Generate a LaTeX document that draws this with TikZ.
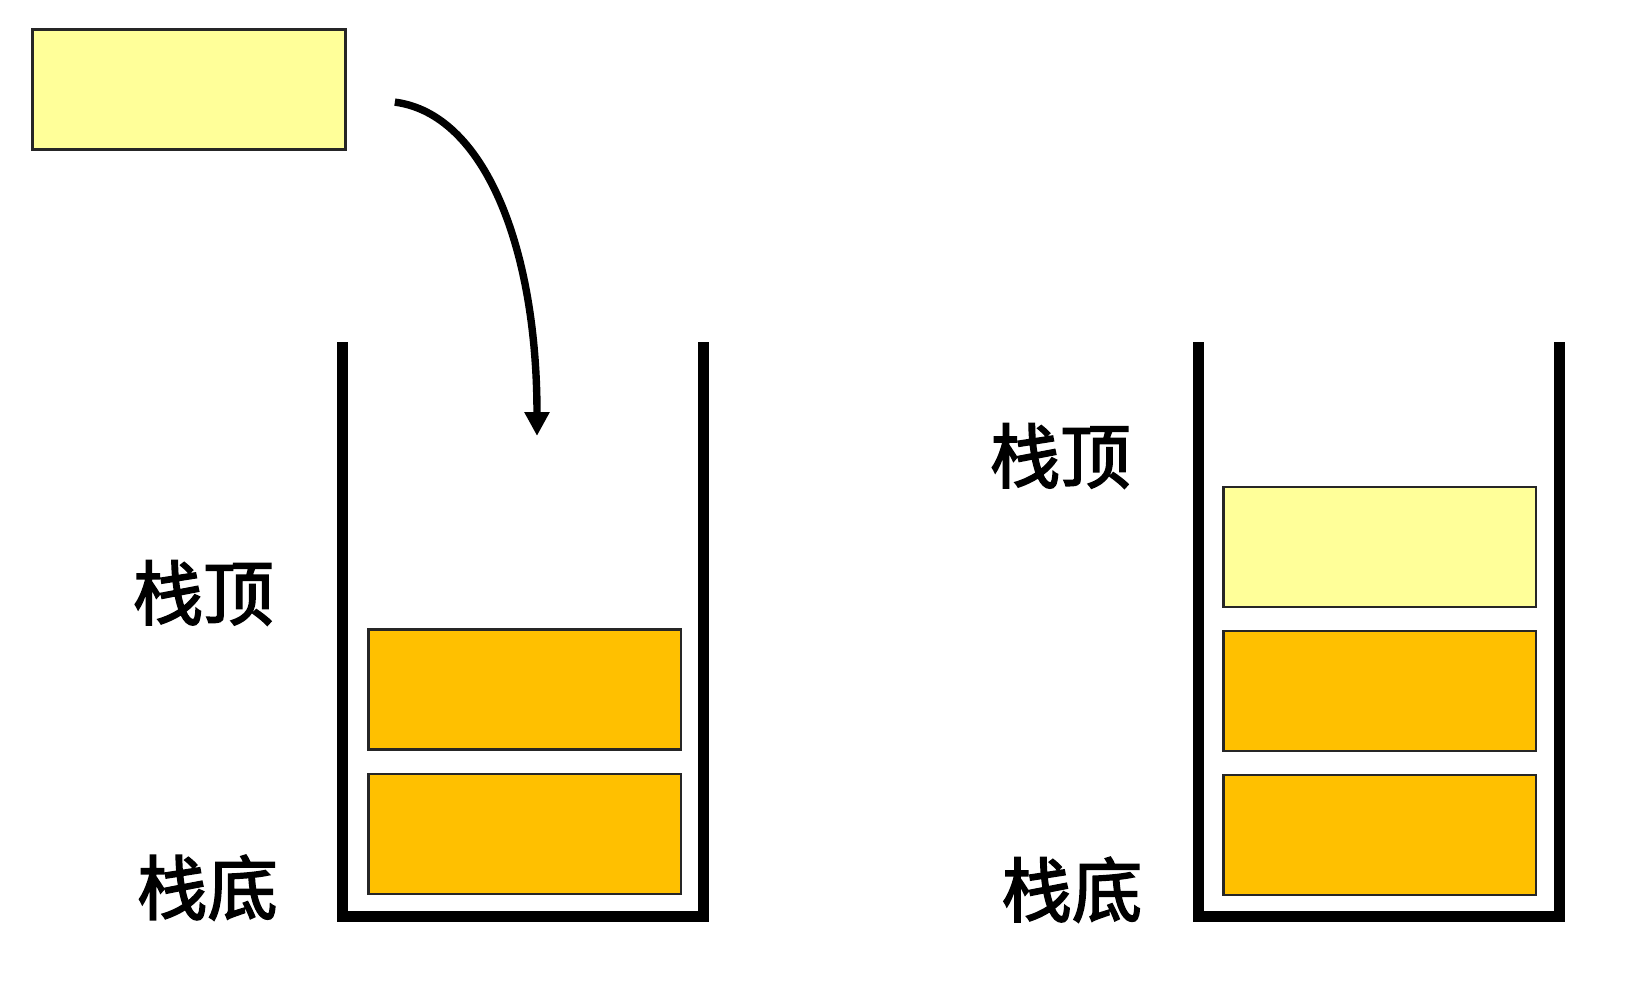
\documentclass[tikz,border=0pt]{standalone}
\usepackage{fontspec}
\newfontfamily\cjk{Noto Sans CJK SC}[FakeBold=2.4]
\usetikzlibrary{positioning,arrows.meta}
\definecolor{newcol}{HTML}{FFFF99}
\definecolor{oldcol}{HTML}{FFC000}
\tikzset{
  elem/.style={draw=black!85,line width=1.3pt,minimum width=5.94cm,minimum height=2.28cm,inner sep=0pt},
  wall/.style={line width=6pt},
  lbl/.style={font=\cjk\fontsize{38}{40}\selectfont,inner sep=0pt}
}
\begin{document}
\begin{tikzpicture}[x=0.02cm,y=-0.02cm]
  \useasboundingbox (0,0) rectangle (1568,943);
  % element to push
  \node[elem,fill=newcol] (new) at (179.5,85) {};
  % stacks
  \foreach \l/\r in {325/668,1138/1481}{
    \draw[wall] (\l,325) -- (\l,870) -- (\r,870) -- (\r,325);
  }
  \foreach \y [count=\i] in {792,655}{
    \node[elem,fill=oldcol] (a\i) at (498.5,\y) {};
    \node[elem,fill=oldcol] (b\i) at (1310.5,\y+1) {};
  }
  \node[elem,fill=newcol] (b3) at (1310.5,519.5) {};
  % labels
  \node[lbl] (topA) at (193,563) {栈顶};
  \node[lbl] (botA) at (197,843) {栈底};
  \node[lbl] (topB) at (1007,433) {栈顶};
  \node[lbl] (botB) at (1018,845) {栈底};
  % push arrow
  \coordinate (start) at (375,97);
  \coordinate (drop) at (510,414);
  \draw[line width=4pt,-{Triangle[length=0.45cm,width=0.45cm]}]
    (start) .. controls (460,108) and (510,235) .. (drop);
\end{tikzpicture}
\end{document}
